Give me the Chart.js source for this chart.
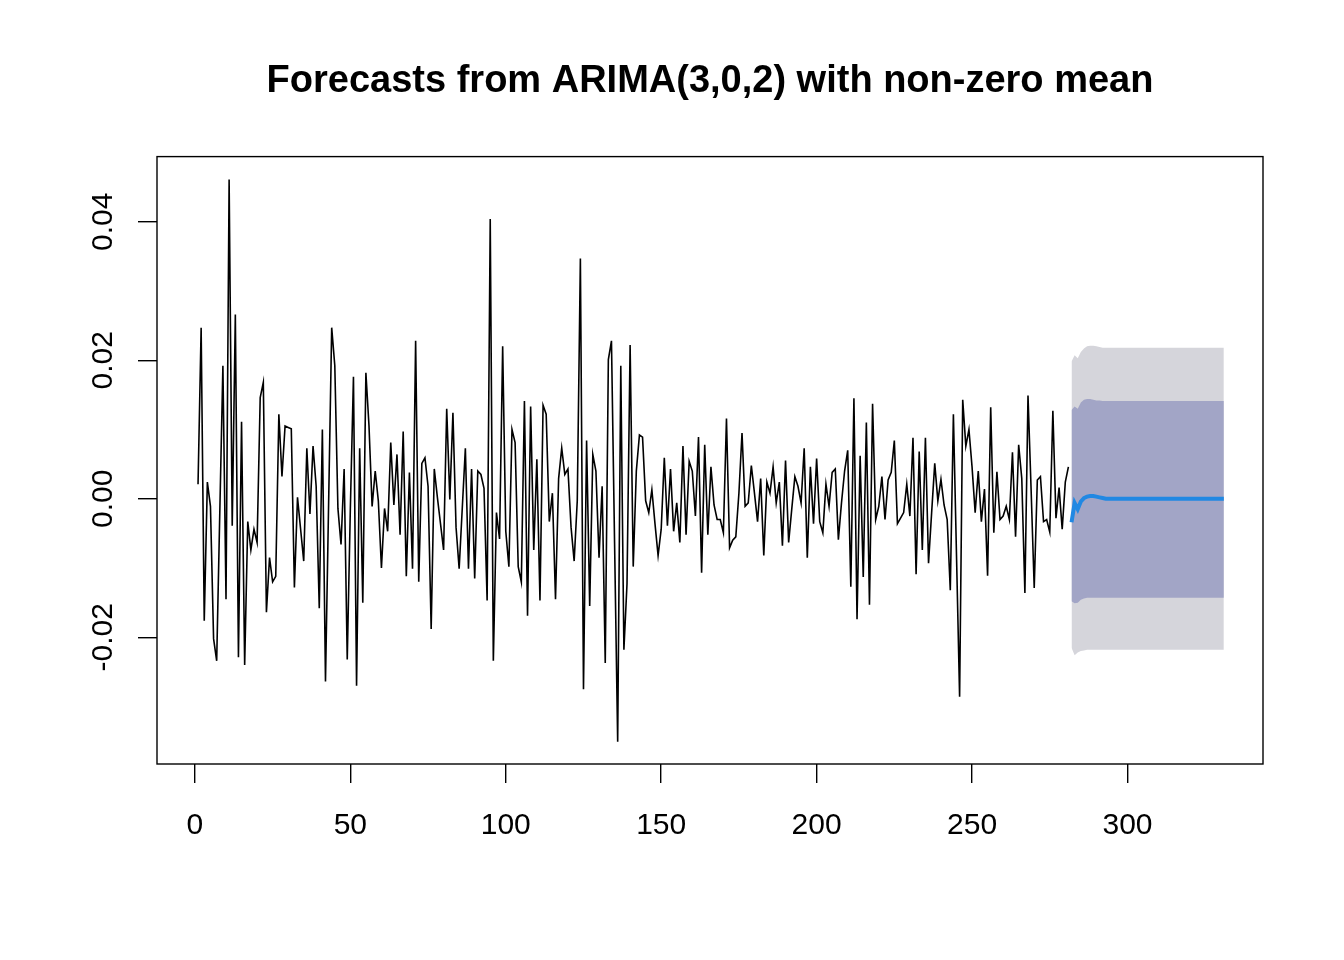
<!DOCTYPE html>
<html>
<head>
<meta charset="utf-8">
<title>Forecasts from ARIMA(3,0,2) with non-zero mean</title>
<script src="https://cdn.jsdelivr.net/npm/chart.js@4.4.1/dist/chart.umd.min.js"></script>
<style>
  body { margin: 0; background: #ffffff; }
  canvas { display: block; }
</style>
</head>
<body>
<canvas id="forecastChart" width="1344" height="960"></canvas>
<script>
const chartTitle = 'Forecasts from ARIMA(3,0,2) with non-zero mean';

const seriesStart = 1;
const seriesValues = [
  0.0021, 0.0247, -0.0176, 0.0024, -0.0011, -0.0202, -0.0234, -0.0020, 0.0192, -0.0145,
  0.0461, -0.0039, 0.0266, -0.0229, 0.0111, -0.0240, -0.0033, -0.0074, -0.0044, -0.0063,
  0.0146, 0.0168, -0.0164, -0.0085, -0.0120, -0.0112, 0.0122, 0.0032, 0.0105, 0.0103,
  0.0101, -0.0128, 0.0002, -0.0044, -0.0090, 0.0073, -0.0022, 0.0076, 0.0018, -0.0158,
  0.0100, -0.0264, -0.0009, 0.0247, 0.0192, -0.0014, -0.0066, 0.0043, -0.0232, -0.0014,
  0.0176, -0.0270, 0.0073, -0.0150, 0.0182, 0.0105, -0.0011, 0.0040, -0.0003, -0.0100,
  -0.0014, -0.0047, 0.0081, -0.0009, 0.0064, -0.0052, 0.0097, -0.0112, 0.0038, -0.0101,
  0.0228, -0.0120, 0.0051, 0.0059, 0.0018, -0.0188, 0.0043, 0.0002, -0.0036, -0.0074,
  0.0130, -0.0001, 0.0124, -0.0041, -0.0101, -0.0014, 0.0073, -0.0101, 0.0043, -0.0115,
  0.0040, 0.0035, 0.0015, -0.0147, 0.0404, -0.0234, -0.0020, -0.0058, 0.0220, -0.0047,
  -0.0098, 0.0100, 0.0081, -0.0098, -0.0120, 0.0141, -0.0169, 0.0133, -0.0074, 0.0057,
  -0.0147, 0.0135, 0.0122, -0.0033, 0.0008, -0.0145, 0.0029, 0.0073, 0.0035, 0.0043,
  -0.0041, -0.0090, -0.0003, 0.0347, -0.0275, 0.0084, -0.0155, 0.0064, 0.0040, -0.0085,
  0.0018, -0.0237, 0.0201, 0.0228, -0.0063, -0.0351, 0.0192, -0.0218, -0.0123, 0.0222,
  -0.0098, 0.0040, 0.0092, 0.0089, -0.0003, -0.0020, 0.0013, -0.0036, -0.0082, -0.0044,
  0.0059, -0.0039, 0.0043, -0.0047, -0.0006, -0.0063, 0.0076, -0.0052, 0.0054, 0.0040,
  -0.0025, 0.0089, -0.0107, 0.0078, -0.0052, 0.0046, -0.0009, -0.0030, -0.0030, -0.0049,
  0.0116, -0.0071, -0.0060, -0.0055, 0.0008, 0.0095, -0.0011, -0.0006, 0.0048, 0.0008,
  -0.0033, 0.0029, -0.0082, 0.0024, 0.0008, 0.0046, -0.0006, 0.0024, -0.0068, 0.0055,
  -0.0063, -0.0015, 0.0032, 0.0018, -0.0006, 0.0073, -0.0085, 0.0046, -0.0036, 0.0058,
  -0.0033, -0.0049, 0.0021, -0.0011, 0.0038, 0.0043, -0.0059, -0.0006, 0.0040, 0.0070,
  -0.0127, 0.0145, -0.0174, 0.0062, -0.0113, 0.0110, -0.0153, 0.0137, -0.0030, -0.0011,
  0.0032, -0.0030, 0.0027, 0.0038, 0.0084, -0.0036, -0.0028, -0.0020, 0.0021, -0.0025,
  0.0088, -0.0109, 0.0068, -0.0074, 0.0088, -0.0093, -0.0020, 0.0051, -0.0003, 0.0028,
  -0.0009, -0.0030, -0.0132, 0.0122, -0.0082, -0.0286, 0.0143, 0.0076, 0.0100, 0.0046,
  -0.0020, 0.0040, -0.0033, 0.0014, -0.0111, 0.0132, -0.0049, 0.0039, -0.0030, -0.0025,
  -0.0011, -0.0030, 0.0067, -0.0055, 0.0078, 0.0029, -0.0136, 0.0149, 0.0013, -0.0129,
  0.0027, 0.0032, -0.0033, -0.0030, -0.0048, 0.0127, -0.0028, 0.0016, -0.0044, 0.0024,
  0.0046,
];

// 50 step ahead forecast, starting right after the last observation
const forecastStart = 282;
const forecastMean = [
  -0.0034, -0.0006, -0.0015, -0.0004, 0.0001, 0.0003, 0.0004, 0.0004, 0.0003, 0.0002,
  0.0001, 0.0000, 0.0000, 0.0000, 0.0000, 0.0000, 0.0000, 0.0000, 0.0000, 0.0000,
  0.0000, 0.0000, 0.0000, 0.0000, 0.0000, 0.0000, 0.0000, 0.0000, 0.0000, 0.0000,
  0.0000, 0.0000, 0.0000, 0.0000, 0.0000, 0.0000, 0.0000, 0.0000, 0.0000, 0.0000,
  0.0000, 0.0000, 0.0000, 0.0000, 0.0000, 0.0000, 0.0000, 0.0000, 0.0000, 0.0000,
];
const upper80 = [
  0.0128, 0.0133, 0.0130, 0.0139, 0.0143, 0.0144, 0.0144, 0.0143, 0.0142, 0.0142,
  0.0141, 0.0141, 0.0141, 0.0141, 0.0141, 0.0141, 0.0141, 0.0141, 0.0141, 0.0141,
  0.0141, 0.0141, 0.0141, 0.0141, 0.0141, 0.0141, 0.0141, 0.0141, 0.0141, 0.0141,
  0.0141, 0.0141, 0.0141, 0.0141, 0.0141, 0.0141, 0.0141, 0.0141, 0.0141, 0.0141,
  0.0141, 0.0141, 0.0141, 0.0141, 0.0141, 0.0141, 0.0141, 0.0141, 0.0141, 0.0141,
];
const lower80 = [
  -0.0148, -0.0151, -0.0150, -0.0146, -0.0144, -0.0143, -0.0143, -0.0143, -0.0143, -0.0143,
  -0.0143, -0.0143, -0.0143, -0.0143, -0.0143, -0.0143, -0.0143, -0.0143, -0.0143, -0.0143,
  -0.0143, -0.0143, -0.0143, -0.0143, -0.0143, -0.0143, -0.0143, -0.0143, -0.0143, -0.0143,
  -0.0143, -0.0143, -0.0143, -0.0143, -0.0143, -0.0143, -0.0143, -0.0143, -0.0143, -0.0143,
  -0.0143, -0.0143, -0.0143, -0.0143, -0.0143, -0.0143, -0.0143, -0.0143, -0.0143, -0.0143,
];
const upper95 = [
  0.0198, 0.0207, 0.0203, 0.0212, 0.0217, 0.0220, 0.0221, 0.0221, 0.0220, 0.0219,
  0.0218, 0.0218, 0.0218, 0.0218, 0.0218, 0.0218, 0.0218, 0.0218, 0.0218, 0.0218,
  0.0218, 0.0218, 0.0218, 0.0218, 0.0218, 0.0218, 0.0218, 0.0218, 0.0218, 0.0218,
  0.0218, 0.0218, 0.0218, 0.0218, 0.0218, 0.0218, 0.0218, 0.0218, 0.0218, 0.0218,
  0.0218, 0.0218, 0.0218, 0.0218, 0.0218, 0.0218, 0.0218, 0.0218, 0.0218, 0.0218,
];
const lower95 = [
  -0.0215, -0.0226, -0.0222, -0.0220, -0.0219, -0.0218, -0.0218, -0.0218, -0.0218, -0.0218,
  -0.0218, -0.0218, -0.0218, -0.0218, -0.0218, -0.0218, -0.0218, -0.0218, -0.0218, -0.0218,
  -0.0218, -0.0218, -0.0218, -0.0218, -0.0218, -0.0218, -0.0218, -0.0218, -0.0218, -0.0218,
  -0.0218, -0.0218, -0.0218, -0.0218, -0.0218, -0.0218, -0.0218, -0.0218, -0.0218, -0.0218,
  -0.0218, -0.0218, -0.0218, -0.0218, -0.0218, -0.0218, -0.0218, -0.0218, -0.0218, -0.0218,
];

const xTicks = [0, 50, 100, 150, 200, 250, 300];
const yTicks = [-0.02, 0, 0.02, 0.04];
const xRange = [-12.2, 343.6];
const yRange = [-0.0383, 0.0494];

const FONT = '"Liberation Sans", Arial, Helvetica, sans-serif';

function toPoints(values, start) {
  return values.map((v, i) => ({ x: start + i, y: v }));
}

// R style box round the plot region
const boxPlugin = {
  id: 'plotBox',
  afterDraw(chart) {
    const { ctx, chartArea } = chart;
    ctx.save();
    ctx.strokeStyle = '#000000';
    ctx.lineWidth = 1.4;
    ctx.strokeRect(chartArea.left, chartArea.top,
      chartArea.right - chartArea.left, chartArea.bottom - chartArea.top);
    ctx.restore();
  },
};

function bandLine(data, fill, color) {
  return {
    data,
    borderWidth: 0,
    borderColor: 'rgba(0,0,0,0)',
    backgroundColor: color,
    pointRadius: 0,
    tension: 0,
    fill,
  };
}

const ctx = document.getElementById('forecastChart').getContext('2d');
new Chart(ctx, {
  type: 'line',
  data: {
    datasets: [
      {
        label: 'Series',
        data: toPoints(seriesValues, seriesStart),
        borderColor: '#000000',
        borderWidth: 1.6,
        pointRadius: 0,
        tension: 0,
        fill: false,
      },
      {
        label: 'Forecast',
        data: toPoints(forecastMean, forecastStart),
        borderColor: '#2188E3',
        borderWidth: 4,
        pointRadius: 0,
        tension: 0,
        fill: false,
      },
      bandLine(toPoints(lower80, forecastStart), false, '#A2A5C6'),
      bandLine(toPoints(upper80, forecastStart), '-1', '#A2A5C6'),
      bandLine(toPoints(lower95, forecastStart), false, '#D5D5DB'),
      bandLine(toPoints(upper95, forecastStart), '-1', '#D5D5DB'),
    ],
  },
  options: {
    responsive: false,
    devicePixelRatio: 1,
    animation: false,
    layout: { padding: { left: 0, right: 81, top: 0, bottom: 0 } },
    plugins: {
      legend: { display: false },
      tooltip: { enabled: false },
      title: {
        display: true,
        text: chartTitle,
        fullSize: false,
        color: '#000000',
        font: { family: FONT, size: 38, weight: 'bold', lineHeight: 1.2 },
        padding: { top: 59, bottom: 52 },
      },
    },
    scales: {
      x: {
        type: 'linear',
        min: xRange[0],
        max: xRange[1],
        afterBuildTicks: scale => {
          scale.ticks = xTicks.map(v => ({ value: v }));
        },
        afterFit: scale => {
          scale.height = 196;
        },
        grid: {
          display: true,
          drawOnChartArea: false,
          drawTicks: true,
          tickLength: 19,
          color: '#000000',
          lineWidth: 1.4,
        },
        border: { display: false },
        ticks: {
          color: '#000000',
          font: { family: FONT, size: 30 },
          padding: 25,
          maxRotation: 0,
          autoSkip: false,
          callback: v => String(v),
        },
      },
      y: {
        type: 'linear',
        min: yRange[0],
        max: yRange[1],
        afterBuildTicks: scale => {
          scale.ticks = yTicks.map(v => ({ value: v }));
        },
        afterFit: scale => {
          scale.width = 157;
        },
        grid: {
          display: true,
          drawOnChartArea: false,
          drawTicks: true,
          tickLength: 19,
          color: '#000000',
          lineWidth: 1.4,
        },
        border: { display: false },
        ticks: {
          color: '#000000',
          font: { family: FONT, size: 30 },
          padding: 0,
          minRotation: 90,
          maxRotation: 90,
          crossAlign: 'center',
          autoSkip: false,
          callback: v => v.toFixed(2),
        },
      },
    },
  },
  plugins: [boxPlugin],
});
</script>
</body>
</html>
